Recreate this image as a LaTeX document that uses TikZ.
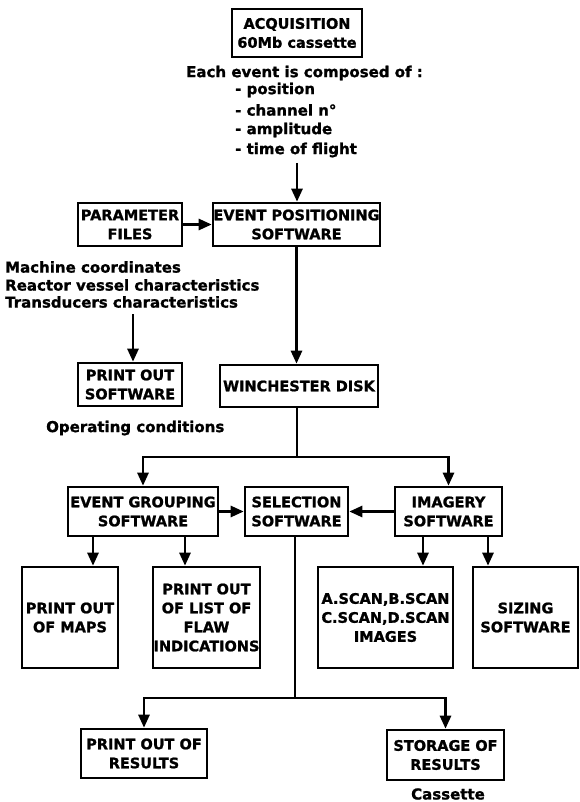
\documentclass[tikz,border=0pt]{standalone}
\usepackage{fontspec}
\setmainfont{DejaVu Sans}[BoldFeatures={FakeBold=1.2}]
\usetikzlibrary{arrows.meta,calc}
\tikzset{
  box/.style={draw, line width=2.6pt, align=center, inner sep=0pt,
    font=\fontsize{14.5}{19}\selectfont\bfseries},
  note/.style={inner sep=0pt, anchor=west, font=\fontsize{15}{17}\selectfont\bfseries},
  conn/.style={line width=2.6pt},
  arr/.style={line width=2.6pt, -{Triangle[length=13pt,width=11pt]}},
}
\begin{document}
\begin{tikzpicture}[x=1pt,y=-1pt]
\useasboundingbox[fill=white] (0,0) rectangle (580,802);

% boxes
\node[box, minimum width=130, minimum height=48] (acq) at (297,33) {ACQUISITION\\60Mb cassette};
\node[box, minimum width=104, minimum height=43] (param) at (130,224.5) {PARAMETER\\FILES};
\node[box, minimum width=167, minimum height=43] (evpos) at (296.5,224.5) {EVENT POSITIONING\\SOFTWARE};
\node[box, minimum width=104, minimum height=43] (prsoft) at (130,384.5) {PRINT OUT\\SOFTWARE};
\node[box, minimum width=158, minimum height=42] (winch) at (299,386) {WINCHESTER DISK};
\node[box, minimum width=150, minimum height=49] (eg) at (143,511.5) {EVENT GROUPING\\SOFTWARE};
\node[box, minimum width=103, minimum height=49] (sel) at (296.5,511.5) {SELECTION\\SOFTWARE};
\node[box, minimum width=107, minimum height=49] (img) at (448.5,511.5) {IMAGERY\\SOFTWARE};
\node[box, minimum width=96, minimum height=101] (maps) at (70,617.5) {PRINT OUT\\OF MAPS};
\node[box, minimum width=107, minimum height=101] (list) at (206.5,617.5) {PRINT OUT\\OF LIST OF\\FLAW\\INDICATIONS};
\node[box, minimum width=135, minimum height=101] (ascan) at (385.5,617.5) {A.SCAN,B.SCAN\\C.SCAN,D.SCAN\\IMAGES};
\node[box, minimum width=105, minimum height=101] (sizing) at (525.5,617.5) {SIZING\\SOFTWARE};
\node[box, minimum width=126, minimum height=49] (res) at (144,753.5) {PRINT OUT OF\\RESULTS};
\node[box, minimum width=117, minimum height=50] (stor) at (445.5,755) {STORAGE OF\\RESULTS};

% annotations
\node[note] (each) at (186,73) {Each event is composed of :};
\node[note] (i1) at (235,90) {- position};
\node[note] (i2) at (235,110) {- channel n°};
\node[note] (i3) at (235,130) {- amplitude};
\node[note] (i4) at (235,150) {- time of flight};
\node[note] (m1) at (5,267) {Machine coordinates};
\node[note] (m2) at (5,285) {Reactor vessel characteristics};
\node[note] (m3) at (5,302) {Transducers characteristics};
\node[note] (oc) at (46,428) {Operating conditions};
\node[note, anchor=center] (cas) at (448,794) {Cassette};

% helper coordinates
\coordinate (a1) at (297,163);
\coordinate (t1) at (133,314);
\coordinate (s1) at (297,457);
\coordinate (s2) at (295,698);
\coordinate (x1) at (93,0);
\coordinate (x2) at (185,0);
\coordinate (x3) at (423,0);
\coordinate (x4) at (488,0);

% connectors
\draw[arr] (a1) -- (a1 |- evpos.north);
\draw[arr] (param.east) -- (evpos.west);
\draw[arr] (evpos.south) -- (evpos.south |- winch.north);
\draw[arr] (t1) -- (t1 |- prsoft.north);
\draw[conn] (winch.south -| s1) -- (s1);
\draw[arr] (s1) -| (eg.north);
\draw[arr] (s1) -| (img.north);
\draw[arr] (eg.east) -- (sel.west);
\draw[arr] (img.west) -- (sel.east);
\draw[arr] (eg.south -| x1) -- (maps.north -| x1);
\draw[arr] (eg.south -| x2) -- (list.north -| x2);
\draw[arr] (img.south -| x3) -- (ascan.north -| x3);
\draw[arr] (img.south -| x4) -- (sizing.north -| x4);
\draw[conn] (sel.south -| s2) -- (s2);
\draw[arr] (s2) -| (res.north);
\draw[arr] (s2) -| (stor.north);
\end{tikzpicture}
\end{document}
